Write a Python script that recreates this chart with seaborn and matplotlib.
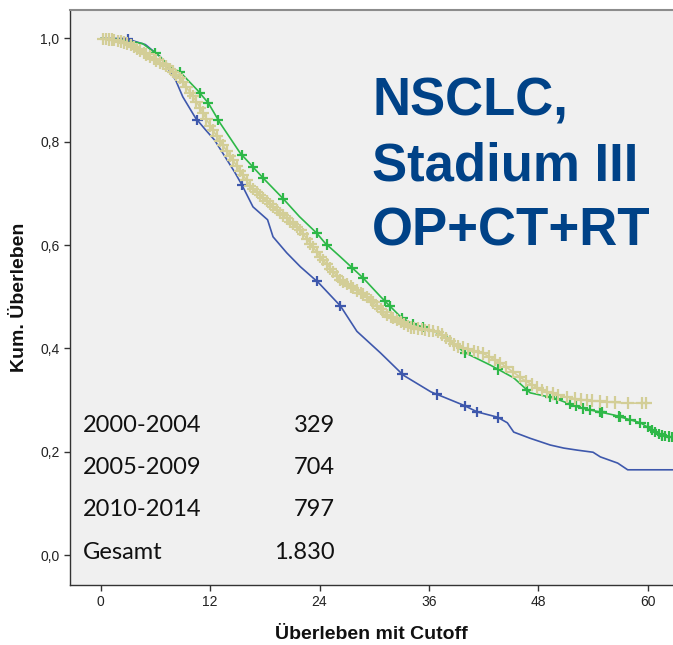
import numpy as np
import pandas as pd
import matplotlib
matplotlib.use("Agg")
import matplotlib.pyplot as plt
import seaborn as sns

# Cohorts and patient counts
cohorts = ["2000-2004", "2005-2009", "2010-2014"]
cohort_n = ["329", "704", "797"]
total_label = "Gesamt"
total_n = "1.830"

# Kaplan-Meier estimates (months, cumulative survival)
t_2000 = [0, 2.7, 4.9, 6.5, 8.2, 9.0, 10.4, 11.5, 12.5, 14.7, 15.5, 16.7, 18.3, 18.9,
          20.4, 21.9, 23.9, 26.3, 28.1, 30.7, 33.2, 36.2, 39.8, 41.3, 43.5, 44.6,
          45.3, 47.1, 49.3, 50.8, 52.3, 54.0, 54.8, 56.7, 57.8, 62.8]
s_2000 = [1.0, 1.0, 0.988, 0.965, 0.92, 0.887, 0.846, 0.823, 0.803, 0.741, 0.716,
          0.674, 0.649, 0.616, 0.585, 0.558, 0.527, 0.482, 0.433, 0.391, 0.348,
          0.316, 0.29, 0.277, 0.267, 0.256, 0.238, 0.226, 0.213, 0.207, 0.203,
          0.199, 0.19, 0.178, 0.165, 0.165]

t_2005 = [0, 2, 4.6, 6.5, 7.6, 8.7, 10.6, 11.8, 13.1, 15.3, 17.8, 20.0, 21.8, 23.7,
          24.6, 26.3, 28.8, 30.7, 32.9, 34.0, 35.4, 38.0, 39.8, 42.7, 45.3, 47.1,
          49.7, 52.6, 56.3, 59.2, 61.4, 62.8]
s_2005 = [1.0, 0.998, 0.99, 0.965, 0.945, 0.935, 0.90, 0.875, 0.836, 0.778, 0.73,
          0.69, 0.655, 0.623, 0.604, 0.577, 0.536, 0.50, 0.461, 0.449, 0.441, 0.422,
          0.393, 0.368, 0.343, 0.314, 0.304, 0.285, 0.271, 0.256, 0.232, 0.228]

t_2010 = [0, 1.5, 3.0, 5.1, 7.3, 8.7, 10.6, 12.2, 14.2, 16.5, 19.3, 21.9, 24.1, 26.3,
          29.2, 31.4, 33.9, 37.0, 39.0, 42.0, 44.0, 46.5, 48.5, 51.0, 53.0, 56.0,
          57.5, 60.0]
s_2010 = [1.0, 0.997, 0.99, 0.968, 0.945, 0.923, 0.875, 0.825, 0.772, 0.712, 0.668,
          0.629, 0.577, 0.532, 0.50, 0.465, 0.441, 0.432, 0.405, 0.39, 0.37, 0.338,
          0.318, 0.306, 0.30, 0.296, 0.294, 0.294]

# Censored observations (months)
cens_2000 = [3.0, 10.6, 15.5, 23.7, 26.3, 33.1, 36.9, 40.0, 41.3, 43.6]
cens_2005 = [6.0, 8.7, 10.9, 11.8, 12.9, 15.5, 16.7, 17.8, 20.0, 23.7, 24.8, 27.6,
             28.8, 31.2, 31.7, 33.1, 34.2, 35.4, 40.0, 43.6, 46.8, 49.3, 50.1, 51.5,
             52.1, 52.9, 53.7, 54.8, 55.0, 56.8, 57.0, 58.1, 59.2, 60.0, 60.5, 60.8,
             61.2, 61.6, 61.9, 62.3, 62.7]
cens_2010 = [0.3, 0.6, 0.9, 1.2, 1.5, 1.9, 2.2, 2.6, 2.9, 3.3, 3.6, 4.0, 4.3, 4.7,
             5.0, 5.4, 5.8, 6.1, 6.5, 6.8, 7.2, 7.6, 7.9, 8.3, 8.7, 9.0, 9.4, 9.8,
             10.1, 10.5, 10.9, 11.2, 11.6, 12.0, 12.3, 12.7, 13.1, 13.4, 13.8, 14.2,
             14.5, 14.9, 15.3, 15.6, 16.0, 16.4, 16.7, 17.1, 17.5, 17.8, 18.2, 18.6,
             18.9, 19.3, 19.7, 20.0, 20.4, 20.8, 21.1, 21.5, 21.9, 22.2, 22.6, 23.0,
             23.3, 23.7, 24.1, 24.4, 24.8, 25.2, 25.5, 25.9, 26.3, 26.6, 27.0, 27.4,
             27.7, 28.1, 28.5, 28.8, 29.2, 29.6, 29.9, 30.3, 30.7, 31.0, 31.4, 31.8,
             32.1, 32.5, 32.9, 33.3, 33.7, 34.0, 34.4, 34.8, 35.2, 35.6, 36.0, 36.5,
             37.0, 37.4, 37.9, 38.3, 38.8, 39.2, 39.7, 40.3, 40.9, 41.4, 41.9, 42.6,
             43.2, 43.8, 44.5, 45.2, 46.0, 46.6, 47.3, 47.9, 48.4, 49.0, 49.6, 50.2,
             51.1, 52.0, 52.7, 53.3, 53.9, 54.8, 55.5, 56.4, 57.8, 59.4, 59.8]

x_ticks = [0, 12, 24, 36, 48, 60]
y_ticks = [0.0, 0.2, 0.4, 0.6, 0.8, 1.0]
y_tick_labels = ["0,0", "0,2", "0,4", "0,6", "0,8", "1,0"]

title_lines = ["NSCLC,", "Stadium III", "OP+CT+RT"]
x_label = "Überleben mit Cutoff"
y_label = "Kum. Überleben"

palette = {"2000-2004": "#3E58AC", "2005-2009": "#2EB848", "2010-2014": "#D3CE97"}
mark_size = {"2000-2004": 55, "2005-2009": 55, "2010-2014": 80}

curves = pd.concat([
    pd.DataFrame({"Monate": t, "Überleben": s, "Kohorte": c})
    for c, t, s in zip(cohorts, [t_2000, t_2005, t_2010], [s_2000, s_2005, s_2010])
], ignore_index=True)

# censor marks sit on their cohort's curve
marks = pd.concat([
    pd.DataFrame({"Monate": cen, "Überleben": np.interp(cen, t, s), "Kohorte": c})
    for c, t, s, cen in zip(cohorts, [t_2000, t_2005, t_2010], [s_2000, s_2005, s_2010],
                             [cens_2000, cens_2005, cens_2010])
], ignore_index=True)

sns.set_theme(style="white")
plt.rcParams["font.family"] = ["Liberation Sans", "DejaVu Sans"]

fig = plt.figure(figsize=(6.73, 6.45), dpi=100)
ax = fig.add_axes([0.104, 0.093, 0.896, 0.8915])
ax.set_facecolor("#F0F0F0")

sns.lineplot(data=curves, x="Monate", y="Überleben", hue="Kohorte", palette=palette,
             estimator=None, sort=False, linewidth=1.2, legend=False, ax=ax)
sns.scatterplot(data=marks, x="Monate", y="Überleben", hue="Kohorte", palette=palette,
                size="Kohorte", sizes=mark_size, marker="+", linewidth=1.6,
                legend=False, ax=ax, zorder=3)

ax.set_xlim(-3.37, 62.77)
ax.set_ylim(-0.058, 1.055)
ax.set_xticks(x_ticks)
ax.set_xticklabels([str(v) for v in x_ticks])
ax.set_yticks(y_ticks)
ax.set_yticklabels(y_tick_labels)
ax.tick_params(axis="both", which="major", direction="out", length=4.5, width=1,
               color="#333333", labelsize=10, labelcolor="#222222", pad=3,
               left=True, bottom=True)

ax.set_xlabel(x_label, fontsize=14, fontweight="bold", color="#111111", labelpad=12)
ax.set_ylabel(y_label, fontsize=14, fontweight="bold", color="#111111", labelpad=9)

for side in ["left", "bottom"]:
    ax.spines[side].set_color("#333333")
    ax.spines[side].set_linewidth(1.0)
ax.spines["top"].set_color("#8C8C8C")
ax.spines["top"].set_linewidth(1.5)
ax.spines["right"].set_visible(False)

# study title
for i, line in enumerate(title_lines):
    ax.text(0.501, 0.817 - i * 0.113, line, transform=ax.transAxes,
            fontsize=38, fontweight="bold", color="#004287",
            ha="left", va="baseline", family="Liberation Sans")

# patient counts per cohort
rows = list(zip(cohorts, cohort_n)) + [(total_label, total_n)]
for i, (lab, n) in enumerate(rows):
    yb = 0.266 - i * 0.0733
    ax.text(0.0216, yb, lab, transform=ax.transAxes, fontsize=17,
            family="Lato", color="#111111", ha="left", va="baseline")
    ax.text(0.4395, yb, n, transform=ax.transAxes, fontsize=17,
            family="Lato", color="#111111", ha="right", va="baseline")

fig.savefig("out.png", dpi=100, facecolor="white")
